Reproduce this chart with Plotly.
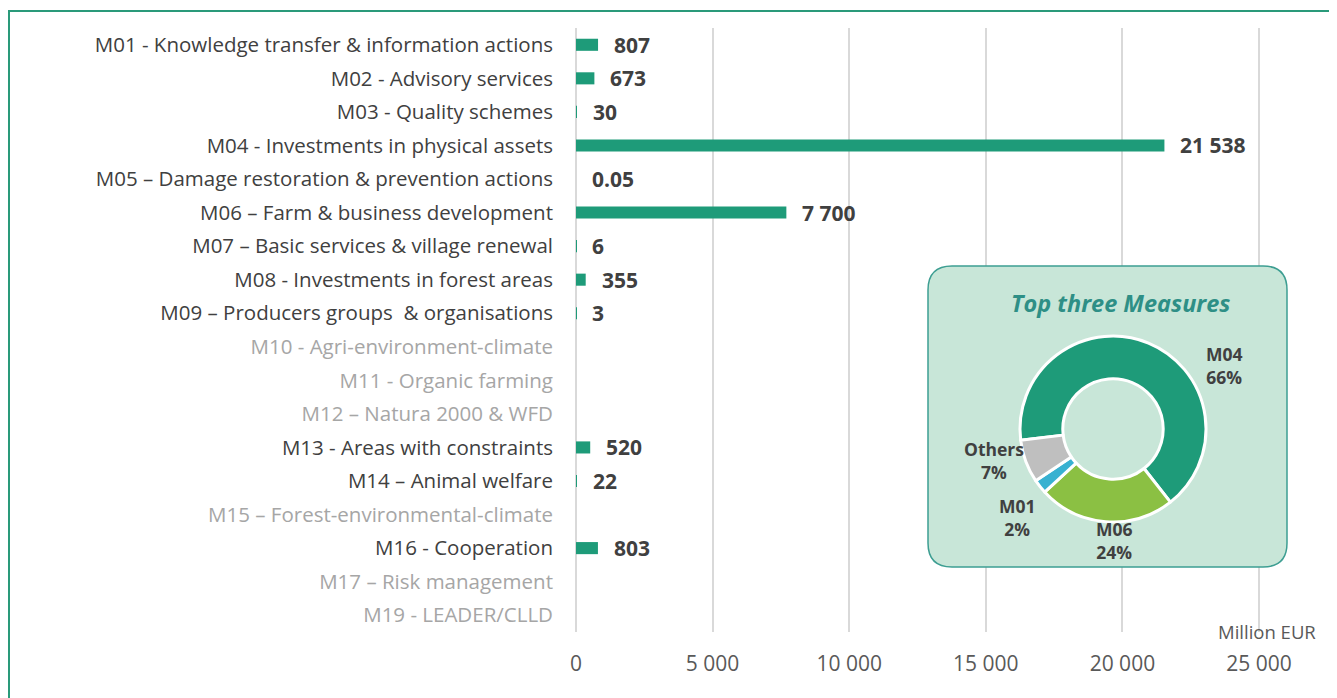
import plotly.graph_objects as go

categories = [
    "M01 - Knowledge transfer & information actions",
    "M02 - Advisory services",
    "M03 - Quality schemes",
    "M04 - Investments in physical assets",
    "M05 – Damage restoration & prevention actions",
    "M06 – Farm & business development",
    "M07 – Basic services & village renewal",
    "M08 - Investments in forest areas",
    "M09 – Producers groups  & organisations",
    "M10 - Agri-environment-climate",
    "M11 - Organic farming",
    "M12 – Natura 2000 & WFD",
    "M13 - Areas with constraints",
    "M14 – Animal welfare",
    "M15 – Forest-environmental-climate",
    "M16 - Cooperation",
    "M17 – Risk management",
    "M19 - LEADER/CLLD",
]
values = [807, 673, 30, 21538, 0.05, 7700, 6, 355, 3, None, None, None, 520, 22, None, 803, None, None]
x_ticks = [0, 5000, 10000, 15000, 20000, 25000]
pie_labels = ["M04", "M06", "M01", "Others"]

GREEN = "#1e9b79"
DARK = "#404040"
LIGHT = "#a6a6a6"
AXIS_TXT = "#595959"
FONT = "Open Sans"

# page offset (body margin) and layout geometry in screen pixels
OFF = 8
WIDTH, HEIGHT = 1337 - OFF, 698 - OFF
X0_SCREEN, X1_SCREEN = 576, 1292   # plot area left/right on screen
Y0_SCREEN, Y1_SCREEN = 28, 632     # plot area top/bottom on screen
L = X0_SCREEN - OFF
T = Y0_SCREEN - OFF
R_M = WIDTH - (X1_SCREEN - OFF)
B_M = HEIGHT - (Y1_SCREEN - OFF)
PW = X1_SCREEN - X0_SCREEN
PH = Y1_SCREEN - Y0_SCREEN
PX_PER_5000 = 136.6
XMAX = 5000 * PW / PX_PER_5000


def fmt(v):
    if v is None:
        return ""
    if float(v).is_integer():
        return f"{int(v):,}".replace(",", " ")
    return str(v)


def px_x(px):
    return (px - X0_SCREEN) / PW


def px_y(py):
    return (Y1_SCREEN - py) / PH


def dx(px):
    return (px - X0_SCREEN) / PW * XMAX


def dy(py):
    return (py - Y0_SCREEN) / PH * len(categories) - 0.5


# pie values
top3 = {"M04": values[3], "M06": values[5], "M01": values[0]}
total = sum(v for v in values if v is not None)
pie_values = [top3["M04"], top3["M06"], top3["M01"], total - sum(top3.values())]
pie_colors = [GREEN, "#8bc043", "#38b1d1", "#bfbfbf"]

ticktext = []
for c, v in zip(categories, values):
    col = DARK if v is not None else LIGHT
    ticktext.append(f'<span style="color:{col}">{c}</span>')

fig = go.Figure()
fig.add_trace(go.Bar(
    y=categories, x=[v if v is not None else 0 for v in values], orientation="h",
    marker=dict(color=GREEN, line=dict(width=0)), width=0.36,
    hoverinfo="skip", showlegend=False,
))

annotations = []
for c, v in zip(categories, values):
    if v is None:
        continue
    annotations.append(dict(
        x=v, y=c, xref="x", yref="y", text=f"<b>{fmt(v)}</b>", showarrow=False,
        xanchor="left", xshift=14, font=dict(family=FONT, size=21, color=DARK),
    ))

annotations.append(dict(
    x=px_x(1267), y=px_y(631), xref="paper", yref="paper", text="Million EUR",
    showarrow=False, xanchor="center", yanchor="middle",
    font=dict(family=FONT, size=18.5, color=AXIS_TXT),
))

# donut
cx, cy, rad = 1113, 429, 93
fig.add_trace(go.Pie(
    labels=pie_labels, values=pie_values, hole=0.54, sort=False,
    direction="clockwise", rotation=-97,
    marker=dict(colors=pie_colors, line=dict(color="white", width=3)),
    textinfo="none", hoverinfo="skip", showlegend=False,
    domain=dict(x=[px_x(cx - rad), px_x(cx + rad)], y=[px_y(cy + rad), px_y(cy - rad)]),
))

label_pos = {"M04": (1224, 365), "M06": (1114, 540), "M01": (1017, 517), "Others": (994, 460)}
for lab, val in zip(pie_labels, pie_values):
    pxp, pyp = label_pos[lab]
    annotations.append(dict(
        x=px_x(pxp), y=px_y(pyp), xref="paper", yref="paper",
        text=f"<b>{lab}<br>{round(val / total * 100)}%</b>", showarrow=False,
        xanchor="center", yanchor="middle",
        font=dict(family=FONT, size=17.5, color=DARK),
    ))

annotations.append(dict(
    x=px_x(1120), y=px_y(303), xref="paper", yref="paper",
    text="<b><i>Top three Measures</i></b>", showarrow=False,
    xanchor="center", yanchor="middle",
    font=dict(family=FONT, size=23.5, color="#2e8f86"),
))

# rounded box path in data coordinates
bx0, by0, bx1, by1, rr = 928, 266, 1287, 567, 24
pts = [
    ("M", bx0 + rr, by0), ("L", bx1 - rr, by0), ("Q", bx1, by0, bx1, by0 + rr),
    ("L", bx1, by1 - rr), ("Q", bx1, by1, bx1 - rr, by1), ("L", bx0 + rr, by1),
    ("Q", bx0, by1, bx0, by1 - rr), ("L", bx0, by0 + rr), ("Q", bx0, by0, bx0 + rr, by0),
]
path = ""
for p in pts:
    cmd = p[0]
    coords = p[1:]
    s = []
    for i in range(0, len(coords), 2):
        s.append(f"{dx(coords[i]):.3f},{dy(coords[i + 1]):.4f}")
    path += cmd + " ".join(s) + " "
path += "Z"

shapes = [
    dict(type="path", path=path, xref="x", yref="y", layer="between",
         fillcolor="#c8e6d8", line=dict(color="#3d9e92", width=1.5)),
    dict(type="rect", xref="paper", yref="paper", x0=px_x(OFF + 1), x1=px_x(1333),
         y0=px_y(710), y1=px_y(11), line=dict(color="#2a9a7a", width=2),
         fillcolor="rgba(0,0,0,0)", layer="above"),
]

fig.update_layout(
    width=WIDTH, height=HEIGHT,
    margin=dict(l=L, r=R_M, t=T, b=B_M),
    paper_bgcolor="white", plot_bgcolor="white",
    font=dict(family=FONT, size=20.5, color=DARK),
    annotations=annotations, shapes=shapes,
    xaxis=dict(
        range=[0, XMAX], tickvals=x_ticks, ticktext=[fmt(t) for t in x_ticks],
        showgrid=True, gridcolor="#d9d9d9", gridwidth=2,
        zeroline=True, zerolinecolor="#d9d9d9", zerolinewidth=2,
        showline=False, ticks="", ticklabelstandoff=17,
        tickfont=dict(family=FONT, size=21, color=AXIS_TXT), fixedrange=True,
    ),
    yaxis=dict(
        type="category", categoryorder="array", categoryarray=categories,
        range=[len(categories) - 0.5, -0.5],
        tickvals=categories, ticktext=ticktext,
        showgrid=False, zeroline=False, showline=False, ticks="",
        ticklabelstandoff=22,
        tickfont=dict(family=FONT, size=20.5, color=DARK), fixedrange=True,
    ),
)

fig.write_html("out.html")
